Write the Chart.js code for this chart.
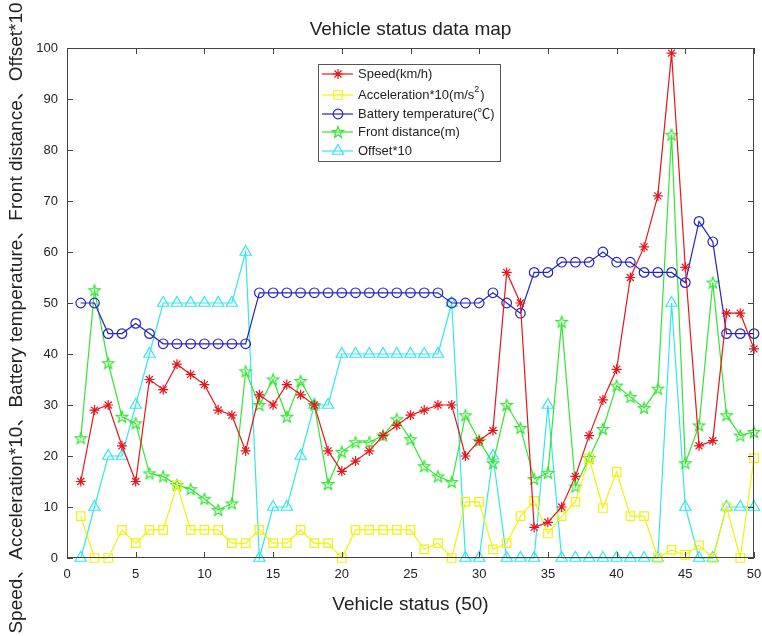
<!DOCTYPE html>
<html lang="en">
<head>
  <meta charset="UTF-8">
  <title>Vehicle status data map</title>
  <script src="https://cdn.jsdelivr.net/npm/chart.js"></script>
  <style>
    body {
      margin: 0;
      padding: 0;
      background: #ffffff;
    }
    .wrap {
      width: 762px;
      height: 636px;
    }
  </style>
</head>
<body>
  <div class="wrap">
    <canvas id="statusChart" width="762" height="636"></canvas>
  </div>

  <script>
    // Vehicle status index (1..50)
    const status = [1, 2, 3, 4, 5, 6, 7, 8, 9, 10, 11, 12, 13, 14, 15, 16, 17, 18, 19, 20,
      21, 22, 23, 24, 25, 26, 27, 28, 29, 30, 31, 32, 33, 34, 35, 36, 37, 38, 39, 40,
      41, 42, 43, 44, 45, 46, 47, 48, 49, 50];

    const speed = [15, 29, 30, 22, 15, 35, 33, 38, 36, 34, 29, 28, 21, 32, 30, 34, 32, 30, 21, 17,
      19, 21, 24, 26, 28, 29, 30, 30, 20, 23, 25, 56, 50, 6, 7, 10, 16, 24, 31, 37,
      55, 61, 71, 99, 57, 22, 23, 48, 48, 41];

    const acceleration = [8.2, 0, 0, 5.5, 2.9, 5.5, 5.5, 14.3, 5.5, 5.5, 5.5, 2.9, 2.9, 5.5, 2.9, 2.9, 5.5, 2.9, 2.9, 0,
      5.5, 5.5, 5.5, 5.5, 5.5, 1.7, 2.9, 0, 11, 11, 1.7, 2.9, 8.2, 11.2, 4.8, 8.2, 11, 19.6, 9.8, 16.9,
      8.2, 8.2, 0, 1.6, 0.6, 2.5, 0, 10, 0, 19.6];

    const batteryTemp = [50, 50, 44, 44, 46, 44, 42, 42, 42, 42, 42, 42, 42, 52, 52, 52, 52, 52, 52, 52,
      52, 52, 52, 52, 52, 52, 52, 50, 50, 50, 52, 50, 48, 56, 56, 58, 58, 58, 60, 58,
      58, 56, 56, 56, 54, 66, 62, 44, 44, 44];

    const frontDistance = [23.5, 52.5, 38.2, 27.7, 26.4, 16.6, 16, 14.3, 13.5, 11.6, 9.4, 10.7, 36.6, 30, 35, 27.7, 34.7, 30, 14.5, 20.8,
      22.7, 22.7, 24, 27.2, 23.3, 18, 16, 14.9, 28, 23, 18.6, 30, 25.5, 15.5, 16.7, 46.3, 14, 19.6, 25.3, 33.8,
      31.6, 29.4, 33.2, 83, 18.6, 26, 54, 28, 24, 24.7];

    const offset = [0, 10, 20, 20, 30, 40, 50, 50, 50, 50, 50, 50, 60, 0, 10, 10, 20, 30, 30, 40,
      40, 40, 40, 40, 40, 40, 40, 50, 0, 0, 20, 0, 0, 0, 30, 0, 0, 0, 0, 0,
      0, 0, 0, 50, 10, 0, 0, 10, 10, 10];

    const xTicks = [0, 5, 10, 15, 20, 25, 30, 35, 40, 45, 50];
    const yTicks = [0, 10, 20, 30, 40, 50, 60, 70, 80, 90, 100];

    const RED = '#e8161c';
    const YELLOW = '#f2f20c';
    const BLUE = '#2424c8';
    const GREEN = '#33e633';
    const CYAN = '#33e6ee';
    const FONT = "'Liberation Sans', Arial, 'Noto Sans CJK SC', sans-serif";

    // green five-pointed star marker (Chart.js has no pentagram)
    function makePentagram(color, r) {
      const c = document.createElement('canvas');
      const size = Math.ceil(r * 2 + 4);
      c.width = size;
      c.height = size;
      const g = c.getContext('2d');
      const cx = size / 2, cy = size / 2 + 0.5;
      g.beginPath();
      for (let i = 0; i < 10; i++) {
        const rad = i % 2 === 0 ? r : r * 0.42;
        const a = -Math.PI / 2 + i * Math.PI / 5;
        const px = cx + rad * Math.cos(a);
        const py = cy + rad * Math.sin(a);
        if (i === 0) g.moveTo(px, py); else g.lineTo(px, py);
      }
      g.closePath();
      g.strokeStyle = color;
      g.lineWidth = 1.2;
      g.stroke();
      return c;
    }
    const pentagram = makePentagram(GREEN, 6);

    function toPoints(values) {
      return status.map((s, i) => ({ x: s, y: values[i] }));
    }

    const seriesInfo = [
      { label: 'Speed(km/h)', data: speed, color: RED, style: 'star', radius: 5 },
      { label: 'Acceleration*10(m/s2)', data: acceleration, color: YELLOW, style: 'rect', radius: 6 },
      { label: 'Battery temperature(℃)', data: batteryTemp, color: BLUE, style: 'circle', radius: 4.8 },
      { label: 'Front distance(m)', data: frontDistance, color: GREEN, style: pentagram, radius: 6 },
      { label: 'Offset*10', data: offset, color: CYAN, style: 'triangle', radius: 6.5 }
    ];

    const datasets = seriesInfo.map(s => ({
      label: s.label,
      data: toPoints(s.data),
      borderColor: s.color,
      borderWidth: 1.2,
      pointStyle: s.style,
      pointRadius: s.radius,
      pointBorderColor: s.color,
      pointBackgroundColor: 'rgba(0,0,0,0)',
      pointBorderWidth: 1.2,
      tension: 0,
      fill: false,
      clip: false
    }));

    // Matlab-like frame, inner ticks, titles and legend
    const matlabFrame = {
      id: 'matlabFrame',
      afterDraw(chart) {
        const ctx = chart.ctx;
        const a = chart.chartArea;
        const xs = chart.scales.x;
        const ys = chart.scales.y;
        ctx.save();

        // box
        ctx.strokeStyle = '#444';
        ctx.lineWidth = 1;
        ctx.strokeRect(a.left + 0.5, a.top + 0.5, a.right - a.left - 1, a.bottom - a.top - 1);

        // inner ticks on all sides
        ctx.beginPath();
        xTicks.forEach(v => {
          const px = Math.round(xs.getPixelForValue(v)) + 0.5;
          ctx.moveTo(px, a.bottom); ctx.lineTo(px, a.bottom - 6);
          ctx.moveTo(px, a.top); ctx.lineTo(px, a.top + 6);
        });
        yTicks.forEach(v => {
          const py = Math.round(ys.getPixelForValue(v)) + 0.5;
          ctx.moveTo(a.left, py); ctx.lineTo(a.left + 6, py);
          ctx.moveTo(a.right, py); ctx.lineTo(a.right - 6, py);
        });
        ctx.stroke();

        // chart title
        ctx.fillStyle = '#222';
        ctx.textAlign = 'center';
        ctx.textBaseline = 'middle';
        ctx.font = '19px ' + FONT;
        ctx.fillText('Vehicle status data map', (a.left + a.right) / 2, 30);

        // x axis title
        ctx.fillText('Vehicle status (50)', (a.left + a.right) / 2, 605);

        // y axis title
        ctx.save();
        ctx.translate(17, 318);
        ctx.rotate(-Math.PI / 2);
        ctx.fillText('Speed、Acceleration*10、Battery temperature、Front distance、Offset*10', 0, 0);
        ctx.restore();

        // legend box
        const lx = a.left + 251, ly = a.top + 16, lw = 182, lh = 97;
        ctx.fillStyle = '#ffffff';
        ctx.fillRect(lx, ly, lw, lh);
        ctx.strokeStyle = '#555';
        ctx.lineWidth = 1;
        ctx.strokeRect(lx + 0.5, ly + 0.5, lw, lh);

        const rows = [10, 31, 50, 68, 87];
        ctx.font = '13px ' + FONT;
        ctx.textAlign = 'left';
        chart.data.datasets.forEach((ds, i) => {
          const ry = ly + rows[i];
          ctx.strokeStyle = ds.borderColor;
          ctx.fillStyle = 'rgba(0,0,0,0)';
          ctx.lineWidth = 1.2;
          ctx.beginPath();
          ctx.moveTo(lx + 4, ry);
          ctx.lineTo(lx + 35, ry);
          ctx.stroke();
          Chart.helpers.drawPoint(ctx, {
            pointStyle: ds.pointStyle,
            radius: ds.pointRadius,
            borderWidth: 1.2,
            rotation: 0
          }, lx + 20, ry);
          ctx.fillStyle = '#222';
          const tx = lx + 40;
          if (i === 1) {
            const base = 'Acceleration*10(m/s';
            ctx.fillText(base, tx, ry);
            const w = ctx.measureText(base).width;
            ctx.font = '9px ' + FONT;
            ctx.fillText('2', tx + w, ry - 5);
            ctx.font = '13px ' + FONT;
            ctx.fillText(')', tx + w + 6, ry);
          } else {
            ctx.fillText(ds.label, tx, ry);
          }
        });
        ctx.restore();
      }
    };

    const ctx = document.getElementById('statusChart').getContext('2d');
    new Chart(ctx, {
      type: 'line',
      data: { datasets: datasets },
      options: {
        responsive: false,
        animation: false,
        layout: { padding: { top: 48, right: 8, left: 0, bottom: 0 } },
        plugins: {
          legend: { display: false },
          title: { display: false },
          tooltip: { enabled: false }
        },
        scales: {
          x: {
            type: 'linear',
            min: 0,
            max: 50,
            grid: { display: false, drawTicks: false },
            border: { display: false },
            afterFit(scale) {
              scale.height = 78;
              scale.paddingLeft = 0;
              scale.paddingRight = 0;
            },
            afterBuildTicks(scale) { scale.ticks = xTicks.map(v => ({ value: v })); },
            ticks: { color: '#222', padding: 9, maxRotation: 0, font: { family: FONT, size: 13 } }
          },
          y: {
            min: 0,
            max: 100,
            grid: { display: false, drawTicks: false },
            border: { display: false },
            afterFit(scale) {
              scale.width = 67;
              scale.paddingTop = 0;
              scale.paddingBottom = 0;
            },
            afterBuildTicks(scale) { scale.ticks = yTicks.map(v => ({ value: v })); },
            ticks: { color: '#222', padding: 9, font: { family: FONT, size: 13 } }
          }
        }
      },
      plugins: [matlabFrame]
    });
  </script>
</body>
</html>
